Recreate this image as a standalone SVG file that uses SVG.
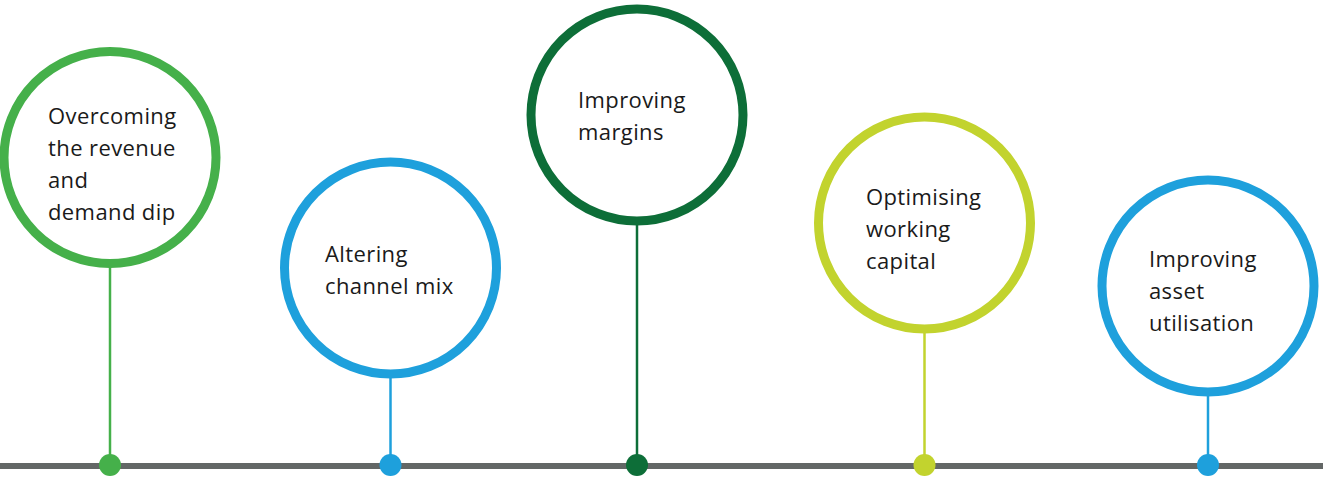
<svg xmlns="http://www.w3.org/2000/svg" width="1323" height="478" viewBox="0 0 1323 478">
  <style>
    .ring { fill: #ffffff; stroke-width: 9; }
    .stem { stroke-width: 2.5; fill: none; }
    .label { font-family: "Open Sans", "Noto Sans", "Liberation Sans", sans-serif; font-size: 22px; letter-spacing: 0.4px; fill: #1a1a1a; }
    .green { stroke: #45b04a; }
    .blue { stroke: #1ea0dc; }
    .dark { stroke: #0d6e38; }
    .lime { stroke: #c2d32e; }
  </style>

  <!-- timeline axis -->
  <rect x="0" y="463" width="1323" height="6" fill="#636766"/>

  <!-- stems joining each ring to its point on the axis -->
  <g id="connectors">
    <line class="stem green" x1="110" y1="263" x2="110" y2="465"/>
    <line class="stem blue" x1="390.5" y1="374" x2="390.5" y2="465"/>
    <line class="stem dark" x1="637" y1="221" x2="637" y2="465"/>
    <line class="stem lime" x1="924.5" y1="329" x2="924.5" y2="465"/>
    <line class="stem blue" x1="1208" y1="392" x2="1208" y2="465"/>
    <circle cx="110" cy="465" r="11" fill="#45b04a"/>
    <circle cx="390.5" cy="465" r="11" fill="#1ea0dc"/>
    <circle cx="637" cy="465" r="11" fill="#0d6e38"/>
    <circle cx="924.5" cy="465" r="11" fill="#c2d32e"/>
    <circle cx="1208" cy="465" r="11" fill="#1ea0dc"/>
  </g>

  <g id="node-revenue">
    <circle class="ring green" cx="110" cy="157.5" r="106"/>
    <text class="label">
      <tspan x="48" y="124">Overcoming</tspan>
      <tspan x="48" y="156">the revenue</tspan>
      <tspan x="48" y="188">and</tspan>
      <tspan x="48" y="220">demand dip</tspan>
    </text>
  </g>

  <g id="node-channel">
    <circle class="ring blue" cx="390.5" cy="268" r="106"/>
    <text class="label">
      <tspan x="325" y="262">Altering</tspan>
      <tspan x="325" y="294">channel mix</tspan>
    </text>
  </g>

  <g id="node-margins">
    <circle class="ring dark" cx="637" cy="115" r="106"/>
    <text class="label">
      <tspan x="578" y="108">Improving</tspan>
      <tspan x="578" y="140">margins</tspan>
    </text>
  </g>

  <g id="node-working-capital">
    <circle class="ring lime" cx="924.5" cy="223" r="106"/>
    <text class="label">
      <tspan x="866" y="205">Optimising</tspan>
      <tspan x="866" y="237">working</tspan>
      <tspan x="866" y="269">capital</tspan>
    </text>
  </g>

  <g id="node-assets">
    <circle class="ring blue" cx="1208" cy="286" r="106"/>
    <text class="label">
      <tspan x="1149" y="267">Improving</tspan>
      <tspan x="1149" y="299">asset</tspan>
      <tspan x="1149" y="331">utilisation</tspan>
    </text>
  </g>
</svg>
